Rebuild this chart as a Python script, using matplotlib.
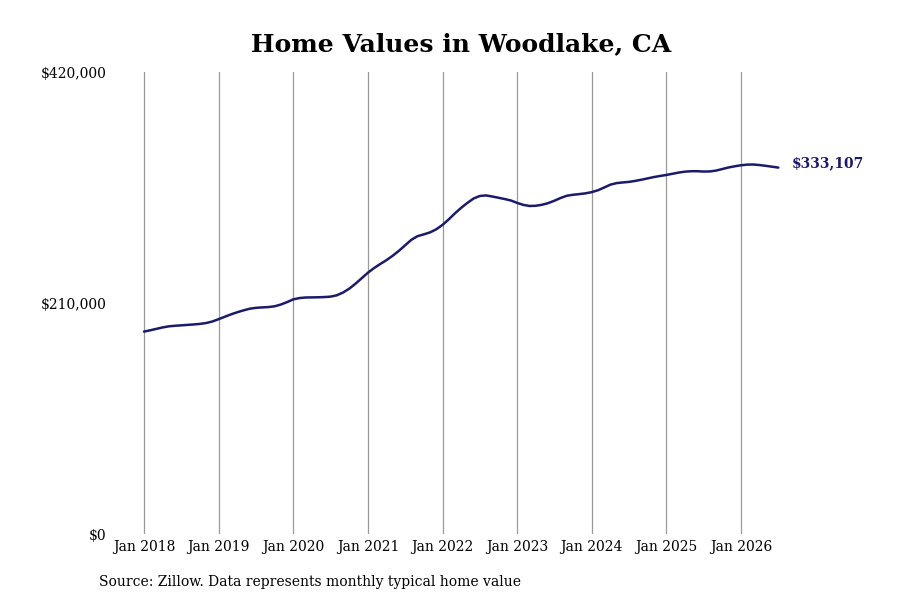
#!/usr/bin/env python3
"""Home values line chart for Woodlake, CA (Zillow typical home value)."""
import matplotlib

matplotlib.use("Agg")
import matplotlib.pyplot as plt
from matplotlib.ticker import FuncFormatter

# monthly typical home value, Jan 2018 .. Jul 2026
values_2018 = [184000, 185200, 186500, 187800, 188800, 189300, 189700, 190100, 190500, 191000, 191800, 193200]
values_2019 = [195300, 197500, 199700, 201600, 203300, 204800, 205600, 206000, 206300, 207000, 208600, 210800]
values_2020 = [213300, 214500, 215000, 215100, 215200, 215400, 215800, 217000, 219500, 223000, 227500, 232500]
values_2021 = [237500, 241800, 245500, 249000, 253000, 257500, 262500, 267500, 270800, 272400, 274200, 277000]
values_2022 = [281000, 286000, 291500, 296500, 301000, 305000, 307300, 307800, 306800, 305700, 304500, 303200]
values_2023 = [301000, 299200, 298200, 298400, 299300, 300800, 303000, 305500, 307500, 308400, 309000, 309700]
values_2024 = [310800, 312500, 315000, 317600, 319000, 319600, 320100, 321000, 322100, 323300, 324500, 325500]
values_2025 = [326400, 327500, 328600, 329400, 329800, 329800, 329500, 329600, 330400, 331800, 333200, 334300]
values_2026 = [335200, 335800, 335900, 335400, 334700, 333900, 333107]

tick_years = [2018, 2019, 2020, 2021, 2022, 2023, 2024, 2025, 2026]
y_ticks = [0, 210000, 420000]

values = (values_2018 + values_2019 + values_2020 + values_2021 + values_2022
          + values_2023 + values_2024 + values_2025 + values_2026)
# decimal year for each month
months = [2018 + i / 12 for i in range(len(values))]

LINE = "#1b1a6b"
SERIF = "DejaVu Serif"

fig = plt.figure(figsize=(9, 6), dpi=100)
# pixel layout: plot area spans x 115..780, y 72..534
ax = fig.add_axes([115 / 900, 1 - 534 / 600, 665 / 900, 462 / 600])

ax.plot(months, values, color=LINE, lw=1.8, solid_capstyle="round")

px_per_year = (741 - 144) / 8
ax.set_xlim(2018 - 29 / px_per_year, 2026 + 39 / px_per_year)
ax.set_ylim(0, 420000)

ax.set_xticks(tick_years)
ax.set_xticklabels([f"Jan {y}" for y in tick_years])
ax.set_yticks(y_ticks)
ax.yaxis.set_major_formatter(FuncFormatter(lambda v, _: f"${v:,.0f}"))

ax.grid(axis="x", color="#9a9a9a", lw=0.9)
ax.set_axisbelow(True)
for s in ax.spines.values():
    s.set_visible(False)
ax.tick_params(axis="both", length=0, labelsize=10, colors="black")
ax.tick_params(axis="x", pad=4)
ax.tick_params(axis="y", pad=6)
for lab in ax.get_xticklabels() + ax.get_yticklabels():
    lab.set_family(SERIF)

# end-of-line value label
ax.annotate(f"${values[-1]:,}", xy=(months[-1], values[-1]), xytext=(10, 3),
            textcoords="offset points", ha="left", va="center",
            fontsize=10, fontweight="bold", family=SERIF, color=LINE,
            annotation_clip=False)

fig.text(461 / 900, 1 - 44 / 600, "Home Values in Woodlake, CA", ha="center", va="center",
         fontsize=18, fontweight="bold", family=SERIF)
fig.text(99 / 900, 1 - 582 / 600, "Source: Zillow. Data represents monthly typical home value",
         ha="left", va="center", fontsize=10, family=SERIF)

fig.savefig("out.png", dpi=100)
